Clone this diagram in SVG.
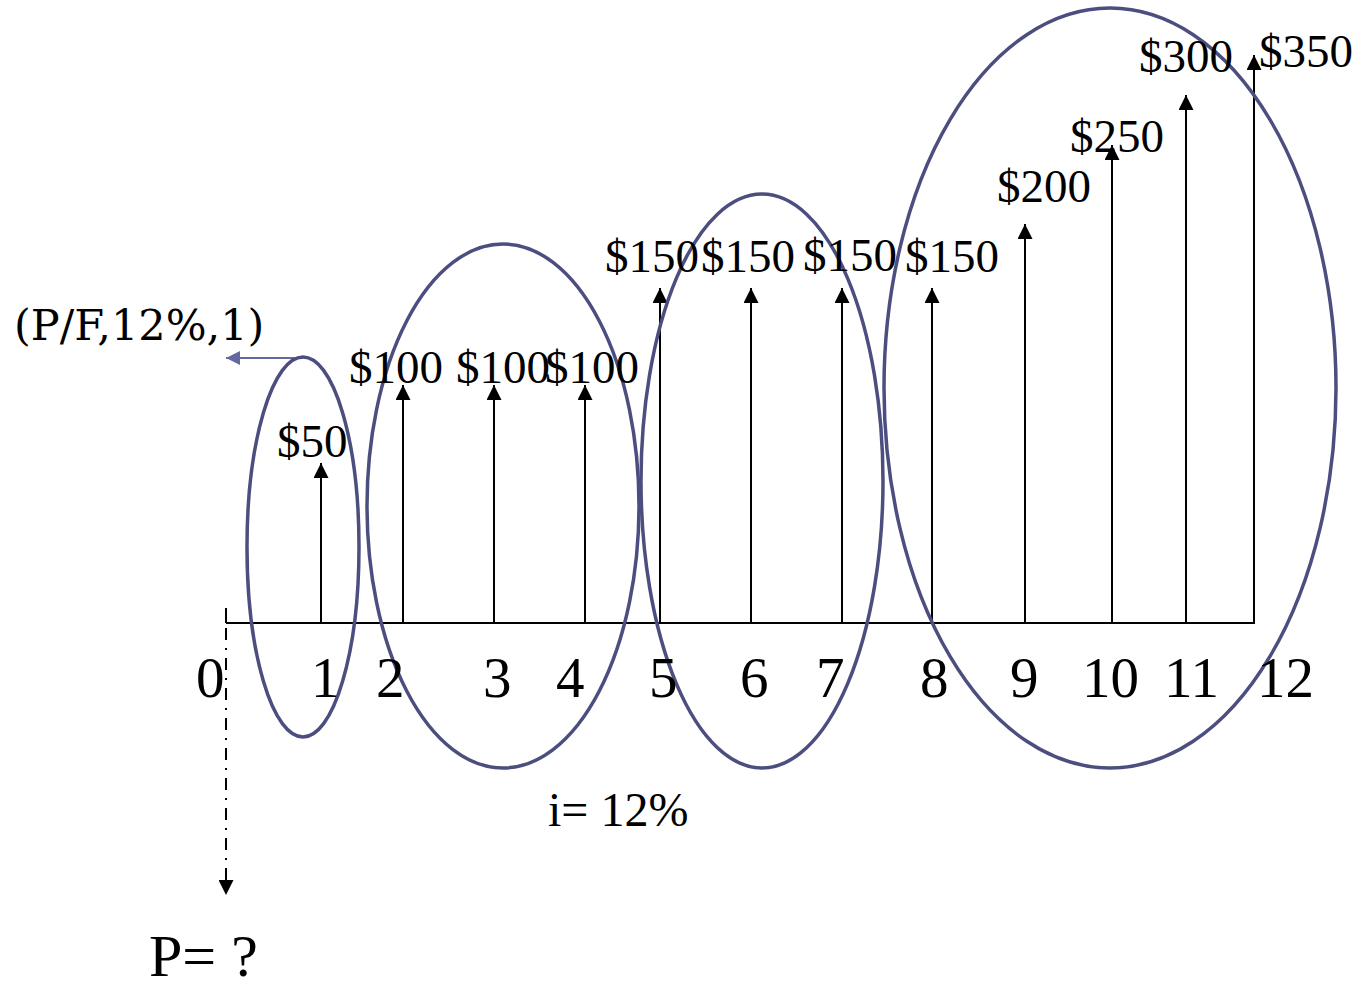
<svg xmlns="http://www.w3.org/2000/svg" width="1359" height="990" viewBox="0 0 1359 990">
<defs>
<style>
.t{font-family:"Liberation Serif","Times New Roman",serif;fill:#000}
.amt{font-size:47px}
.ax{font-size:57px}
.sh{stroke:#000;stroke-width:2;fill:none}
.el{fill:none;stroke:#4b4e7e;stroke-width:3.5}
</style>
<marker id="ah" viewBox="0 0 10 10" refX="10" refY="5" markerWidth="15" markerHeight="15" markerUnits="userSpaceOnUse" orient="auto">
<path d="M0,0 L10,5 L0,10 Z" fill="#000"/>
</marker>
<marker id="ahb" viewBox="0 0 10 10" refX="10" refY="5" markerWidth="14" markerHeight="14" markerUnits="userSpaceOnUse" orient="auto">
<path d="M0,0 L10,5 L0,10 Z" fill="#6468a0"/>
</marker>
</defs>
<rect width="1359" height="990" fill="#fff"/>

<g id="axis">
<line class="sh" x1="226" y1="623" x2="1255" y2="623"/>
<line class="sh" x1="226" y1="608" x2="226" y2="623"/>
</g>

<g id="connectors">
<line class="sh" x1="321" y1="623" x2="321" y2="463" marker-end="url(#ah)"/>
<line class="sh" x1="403" y1="623" x2="403" y2="385" marker-end="url(#ah)"/>
<line class="sh" x1="494" y1="623" x2="494" y2="385" marker-end="url(#ah)"/>
<line class="sh" x1="585" y1="623" x2="585" y2="385" marker-end="url(#ah)"/>
<line class="sh" x1="660" y1="623" x2="660" y2="288" marker-end="url(#ah)"/>
<line class="sh" x1="751" y1="623" x2="751" y2="288" marker-end="url(#ah)"/>
<line class="sh" x1="842" y1="623" x2="842" y2="288" marker-end="url(#ah)"/>
<line class="sh" x1="932" y1="623" x2="932" y2="288" marker-end="url(#ah)"/>
<line class="sh" x1="1025" y1="623" x2="1025" y2="224" marker-end="url(#ah)"/>
<line class="sh" x1="1112" y1="623" x2="1112" y2="145" marker-end="url(#ah)"/>
<line class="sh" x1="1186" y1="623" x2="1186" y2="95" marker-end="url(#ah)"/>
<line class="sh" x1="1254" y1="623" x2="1254" y2="55" marker-end="url(#ah)"/>
<line x1="226" y1="628" x2="226" y2="895" stroke="#000" stroke-width="2" stroke-dasharray="12,8,2,8" marker-end="url(#ah)"/>
<line x1="303" y1="358" x2="226" y2="358" stroke="#6468a0" stroke-width="2" marker-end="url(#ahb)"/>
</g>

<g id="ellipses">
<ellipse id="e1" class="el" cx="303" cy="547" rx="56" ry="190"/>
<ellipse id="e2" class="el" cx="503" cy="506" rx="136" ry="262"/>
<ellipse id="e3" class="el" cx="762" cy="481" rx="121" ry="287"/>
<ellipse id="e4" class="el" cx="1110" cy="388" rx="226" ry="380"/>
</g>

<g id="amounts" class="t amt">
<text x="277" y="457">$50</text>
<text x="349" y="383">$100</text>
<text x="456" y="383">$100</text>
<text x="545" y="383">$100</text>
<text x="605" y="272">$150</text>
<text x="701" y="272">$150</text>
<text x="803" y="271">$150</text>
<text x="905" y="272">$150</text>
<text x="997" y="202">$200</text>
<text x="1070" y="152">$250</text>
<text x="1139" y="72">$300</text>
<text x="1259" y="67">$350</text>
</g>

<g id="periods" class="t ax">
<text x="196" y="697">0</text>
<text x="311" y="697">1</text>
<text x="376" y="697">2</text>
<text x="483" y="697">3</text>
<text x="556" y="697">4</text>
<text x="649" y="697">5</text>
<text x="740" y="697">6</text>
<text x="816" y="697">7</text>
<text x="920" y="697">8</text>
<text x="1010" y="697">9</text>
<text x="1082" y="697">10</text>
<text x="1164" y="697">11</text>
<text x="1257" y="697">12</text>
</g>

<g id="pf-label">
<text x="14" y="340" font-family="'DejaVu Serif','Liberation Serif',serif" font-size="43">(P/F,12%,1)</text>
</g>
<g id="rate">
<text class="t" x="548" y="826" font-size="48">i= 12%</text>
</g>
<g id="present">
<text class="t" x="149" y="976" font-size="60">P= ?</text>
</g>
</svg>
